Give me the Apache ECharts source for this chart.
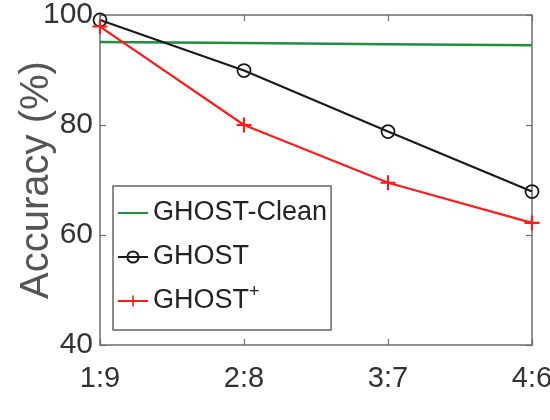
<!DOCTYPE html>
<html>
<head>
<meta charset="utf-8">
<script src="https://cdn.jsdelivr.net/npm/echarts@6/dist/echarts.min.js"></script>
<style>
  html, body { margin: 0; padding: 0; background: #fff; }
  #chart { width: 550px; height: 420px; }
</style>
</head>
<body>
<div id="chart"></div>
<script>
// Train/test split ratios on the x axis
const ratios = ['1:9', '2:8', '3:7', '4:6'];
// Accuracy (%) for each method
const ghostClean = [95.1, 94.9, 94.7, 94.5];
const ghost = [99.1, 89.9, 78.8, 67.9];
const ghostPlus = [97.9, 80.0, 69.5, 62.2];
// Y axis range and step
const yMin = 40, yMax = 100, yStep = 20;

const labelFont = '"Liberation Sans", Arial, Helvetica, sans-serif';
const axisGray = '#6e6e6e';
const plusPath = 'path://M6,0H8V6H14V8H8V14H6V8H0V6H6Z';

const chart = echarts.init(document.getElementById('chart'), null, { renderer: 'canvas' });

const boxAxis = {
  axisLine: { show: true, lineStyle: { color: axisGray, width: 1.5 } },
  axisTick: { show: true, inside: true, length: 6, lineStyle: { color: axisGray, width: 1.2 } },
  splitLine: { show: false }
};

chart.setOption({
  backgroundColor: '#ffffff',
  animation: false,
  grid: { left: 100, right: 18, top: 15, bottom: 75, containLabel: false, outerBoundsMode: 'none' },
  xAxis: [
    Object.assign({
      type: 'category',
      data: ratios,
      boundaryGap: false,
      position: 'bottom',
      axisLabel: { color: '#333', fontFamily: labelFont, fontSize: 29, margin: 19 }
    }, boxAxis),
    Object.assign({
      type: 'category',
      data: ratios,
      boundaryGap: false,
      position: 'top',
      axisLabel: { show: false }
    }, boxAxis)
  ],
  yAxis: [
    Object.assign({
      type: 'value',
      min: yMin, max: yMax, interval: yStep,
      position: 'left',
      name: 'Accuracy (%)',
      nameLocation: 'middle',
      nameGap: 43,
      nameMoveOverlap: false,
      nameTextStyle: { color: '#555', fontFamily: labelFont, fontSize: 40 },
      axisLabel: { color: '#333', fontFamily: labelFont, fontSize: 30, margin: 7 }
    }, boxAxis),
    Object.assign({
      type: 'value',
      min: yMin, max: yMax, interval: yStep,
      position: 'right',
      axisLabel: { show: false }
    }, boxAxis)
  ],
  legend: {
    orient: 'vertical',
    left: 113,
    top: 186,
    padding: [9, 4, 11, 4],
    itemGap: 8,
    itemWidth: 30,
    itemHeight: 14,
    borderColor: '#666',
    borderWidth: 1.5,
    backgroundColor: '#fff',
    data: [
      { name: 'GHOST-Clean', itemStyle: { opacity: 0 } },
      { name: 'GHOST' },
      { name: 'GHOST+' }
    ],
    formatter: function (name) {
      return name === 'GHOST+' ? 'GHOST{sup|+}' : name;
    },
    textStyle: {
      color: '#222',
      fontFamily: labelFont,
      fontSize: 27,
      lineHeight: 36,
      rich: {
        sup: { fontFamily: labelFont, fontSize: 18, verticalAlign: 'top', lineHeight: 28, color: '#222' }
      }
    }
  },
  series: [
    {
      name: 'GHOST-Clean',
      type: 'line',
      data: ghostClean,
      symbol: 'none',
      lineStyle: { color: '#1f8f3f', width: 2.5 },
      itemStyle: { color: '#1f8f3f' },
      z: 2
    },
    {
      name: 'GHOST',
      type: 'line',
      data: ghost,
      symbol: 'circle',
      symbolSize: 13,
      showAllSymbol: true,
      lineStyle: { color: '#1a1a1a', width: 2.2 },
      itemStyle: { color: 'rgba(0,0,0,0)', borderColor: '#1a1a1a', borderWidth: 1.8 },
      z: 3
    },
    {
      name: 'GHOST+',
      type: 'line',
      data: ghostPlus,
      symbol: plusPath,
      symbolSize: 15,
      showAllSymbol: true,
      lineStyle: { color: '#ff1a1a', width: 2.2 },
      itemStyle: { color: '#ff1a1a' },
      z: 4
    }
  ]
});
</script>
</body>
</html>
